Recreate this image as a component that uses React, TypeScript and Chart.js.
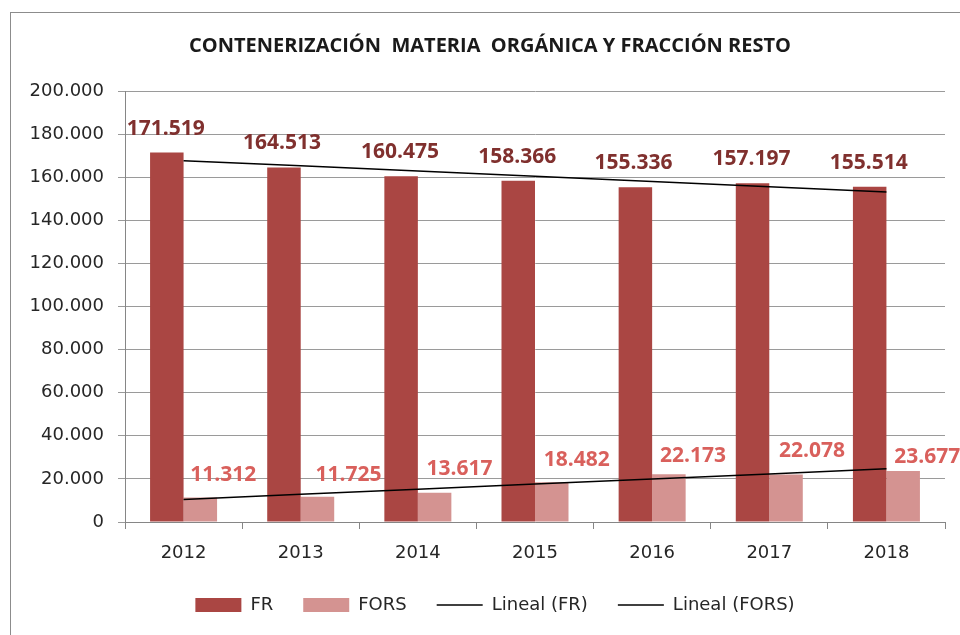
import React, { useEffect, useRef } from 'react';
import { Chart, registerables } from 'chart.js';

Chart.register(...registerables);

const chartTitle = 'CONTENERIZACIÓN  MATERIA  ORGÁNICA Y FRACCIÓN RESTO';
const years = ['2012', '2013', '2014', '2015', '2016', '2017', '2018'];
const frValues = [171519, 164513, 160475, 158366, 155336, 157197, 155514];
const forsValues = [11312, 11725, 13617, 18482, 22173, 22078, 23677];
const yTickValues = [0, 20000, 40000, 60000, 80000, 100000, 120000, 140000, 160000, 180000, 200000];
const seriesNames = ['FR', 'FORS', 'Lineal (FR)', 'Lineal (FORS)'];

// label placement offsets (px) relative to bar top centre
const frLabelOffsets = [[-1, -23], [-2, -24], [-1, -24], [-1, -24], [-2, -24], [-1, -24], [-1, -24]];
const forsLabelOffsets = [[23, -23], [31, -22], [25, -24], [25, -22], [24, -18], [26, -23], [24, -14]];

const FR_COLOR = '#AA4643';
const FORS_COLOR = '#D49391';
const FR_LABEL = '#80302E';
const FORS_LABEL = '#D9605C';

function fmt(v: number): string {
  const s = Math.round(v).toString();
  return s.replace(/\B(?=(\d{3})+(?!\d))/g, '.');
}

function linearTrend(values: number[]): number[] {
  const n = values.length;
  const xs = values.map((_, i) => i + 1);
  const mx = xs.reduce((a, b) => a + b, 0) / n;
  const my = values.reduce((a, b) => a + b, 0) / n;
  let sxy = 0;
  let sxx = 0;
  for (let i = 0; i < n; i++) {
    sxy += (xs[i] - mx) * (values[i] - my);
    sxx += (xs[i] - mx) * (xs[i] - mx);
  }
  const slope = sxy / sxx;
  const b = my - slope * mx;
  return xs.map((x) => b + slope * x);
}

const labelPlugin = {
  id: 'barValueLabels',
  afterDatasetsDraw(chart: any) {
    const ctx = chart.ctx;
    ctx.save();
    ctx.font = 'bold 21px "Open Sans"';
    ctx.textAlign = 'center';
    ctx.textBaseline = 'middle';
    [0, 1].forEach((di) => {
      const meta = chart.getDatasetMeta(di);
      const values = di === 0 ? frValues : forsValues;
      const offs = di === 0 ? frLabelOffsets : forsLabelOffsets;
      ctx.fillStyle = di === 0 ? FR_LABEL : FORS_LABEL;
      meta.data.forEach((el: any, i: number) => {
        ctx.fillText(fmt(values[i]), el.x + offs[i][0], el.y + offs[i][1]);
      });
    });
    ctx.restore();
  },
};

// nudge title and legend horizontally like the original layout
const shiftPlugin = {
  id: 'shiftBoxes',
  afterLayout(chart: any) {
    if (chart.titleBlock) {
      chart.titleBlock.left += 3;
      chart.titleBlock.right += 3;
    }
    if (chart.legend) {
      chart.legend.left += 8;
      chart.legend.right += 8;
    }
  },
};

export default function App() {
  const ref = useRef<HTMLCanvasElement | null>(null);

  useEffect(() => {
    if (!ref.current) return;
    const chart = new Chart(ref.current, {
      type: 'bar',
      data: {
        labels: years,
        datasets: [
          {
            type: 'bar',
            label: seriesNames[0],
            data: frValues,
            backgroundColor: FR_COLOR,
            borderWidth: 0,
            barPercentage: 1,
            categoryPercentage: 0.572,
            order: 2,
          },
          {
            type: 'bar',
            label: seriesNames[1],
            data: forsValues,
            backgroundColor: FORS_COLOR,
            borderWidth: 0,
            barPercentage: 1,
            categoryPercentage: 0.572,
            order: 2,
          },
          {
            type: 'line',
            label: seriesNames[2],
            data: linearTrend(frValues),
            borderColor: '#000000',
            borderWidth: 1.5,
            pointRadius: 0,
            fill: false,
            tension: 0,
            order: 1,
          },
          {
            type: 'line',
            label: seriesNames[3],
            data: linearTrend(forsValues),
            borderColor: '#000000',
            borderWidth: 1.5,
            pointRadius: 0,
            fill: false,
            tension: 0,
            order: 1,
          },
        ] as any,
      },
      options: {
        responsive: false,
        animation: false,
        devicePixelRatio: 1,
        layout: { padding: { left: 18, right: 37, top: 0, bottom: 29 } },
        plugins: {
          tooltip: { enabled: false },
          title: {
            display: true,
            text: chartTitle,
            color: '#1a1a1a',
            font: { family: '"Open Sans"', size: 20, weight: 'bold' },
            padding: { top: 21, bottom: 33 },
          },
          legend: {
            display: true,
            position: 'bottom',
            labels: {
              usePointStyle: true,
              pointStyleWidth: 46,
              boxHeight: 14,
              padding: 30,
              color: '#262626',
              font: { family: '"DejaVu Sans"', size: 18 },
              generateLabels: (c: any) =>
                c.data.datasets.map((ds: any, i: number) => ({
                  text: ds.label,
                  fillStyle: i < 2 ? ds.backgroundColor : 'rgba(0,0,0,0)',
                  strokeStyle: i < 2 ? ds.backgroundColor : '#000000',
                  lineWidth: i < 2 ? 0 : 1.5,
                  pointStyle: i < 2 ? 'rect' : 'line',
                  hidden: false,
                  datasetIndex: i,
                  fontColor: '#262626',
                })),
            },
          },
        },
        scales: {
          x: {
            grid: {
              display: true,
              drawOnChartArea: false,
              drawTicks: true,
              tickLength: 7,
              offset: true,
              color: '#868686',
              lineWidth: 1,
            },
            border: { display: true, color: '#868686', width: 1 },
            ticks: {
              color: '#262626',
              padding: 14,
              font: { family: '"DejaVu Sans"', size: 18 },
            },
            afterFit: (s: any) => {
              s.height = 44;
            },
          },
          y: {
            min: 0,
            max: 200000,
            afterBuildTicks: (s: any) => {
              s.ticks = yTickValues.map((v) => ({ value: v }));
            },
            grid: {
              color: '#9a9a9a',
              lineWidth: 1,
              drawTicks: true,
              tickLength: 7,
            },
            border: { display: true, color: '#868686', width: 1 },
            ticks: {
              color: '#262626',
              padding: 14,
              font: { family: '"DejaVu Sans"', size: 18 },
              callback: (v: any) => fmt(Number(v)),
            },
            afterFit: (s: any) => {
              s.width = 96;
            },
          },
        },
      } as any,
      plugins: [labelPlugin, shiftPlugin],
    });
    return () => chart.destroy();
  }, []);

  return (
    <div
      style={{
        position: 'fixed',
        left: 0,
        top: 0,
        width: 960,
        height: 635,
        overflow: 'hidden',
        background: '#ffffff',
      }}
    >
      <div
        style={{
          position: 'absolute',
          left: 10,
          top: 12,
          width: 971,
          height: 640,
          border: '1px solid #8c8c8c',
          background: '#ffffff',
        }}
      >
        <canvas ref={ref} width={971} height={640} style={{ display: 'block' }} />
      </div>
    </div>
  );
}
